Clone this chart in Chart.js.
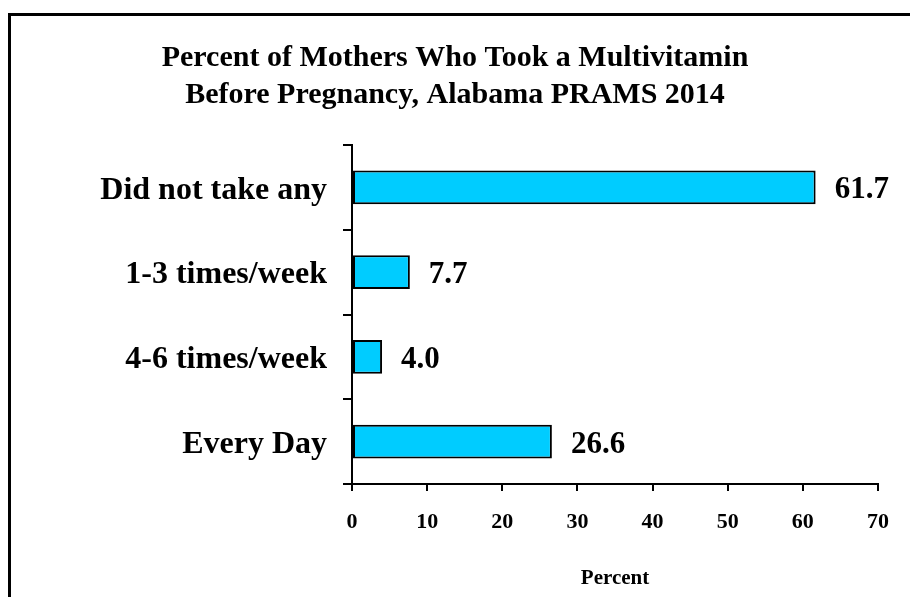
<!DOCTYPE html>
<html lang="en">
<head>
  <meta charset="UTF-8" />
  <title>Multivitamin Before Pregnancy</title>
  <script src="https://cdn.jsdelivr.net/npm/chart.js"></script>
  <style>
    body { margin: 0; background: #fff; overflow: hidden; }
    .wrap { position: relative; width: 910px; height: 597px; }
    .frame {
      position: absolute; left: 8px; top: 13px;
      width: 1000px; height: 700px;
      border: 3px solid #000;
    }
    canvas { position: absolute; left: 0; top: 0; }
  </style>
</head>
<body>
  <div class="wrap">
    <div class="frame"></div>
    <canvas id="chart" width="910" height="597"></canvas>
  </div>

  <script>
    // data
    const categories = ['Did not take any', '1-3 times/week', '4-6 times/week', 'Every Day'];
    const percents = [61.7, 7.7, 4.0, 26.6];
    const xTicks = [0, 10, 20, 30, 40, 50, 60, 70];
    const titleLines = ['Percent of Mothers Who Took a Multivitamin', 'Before Pregnancy, Alabama PRAMS 2014'];

    const serif = '"Liberation Serif", "Times New Roman", serif';

    // title + value labels
    const extras = {
      id: 'extras',
      afterDatasetsDraw(chart) {
        const ctx = chart.ctx;
        ctx.save();
        ctx.fillStyle = '#000';
        ctx.font = 'bold 30px ' + serif;
        ctx.textAlign = 'center';
        ctx.textBaseline = 'middle';
        ctx.fillText(titleLines[0], 455, 58);
        ctx.fillText(titleLines[1], 455, 95);

        ctx.font = 'bold 31px ' + serif;
        ctx.textAlign = 'left';
        const meta = chart.getDatasetMeta(0);
        meta.data.forEach((bar, i) => {
          ctx.fillText(percents[i].toFixed(1), bar.x + 19, bar.y + 3);
        });
        ctx.restore();
      }
    };

    new Chart(document.getElementById('chart'), {
      type: 'bar',
      data: {
        labels: categories,
        datasets: [{
          data: percents,
          backgroundColor: '#00CCFF',
          borderColor: '#000',
          borderWidth: 2,
          borderSkipped: false,
          categoryPercentage: 1,
          barPercentage: 0.4
        }]
      },
      options: {
        indexAxis: 'y',
        responsive: false,
        animation: false,
        layout: { padding: { top: 145, right: 32, left: 0, bottom: 0 } },
        plugins: { legend: { display: false }, tooltip: { enabled: false } },
        scales: {
          x: {
            min: 0, max: 70,
            afterBuildTicks(scale) { scale.ticks = xTicks.map(v => ({ value: v })); },
            afterFit(scale) { scale.height = 113; },
            grid: { drawOnChartArea: false, drawTicks: true, tickLength: 7, color: '#000', lineWidth: 2 },
            border: { display: true, color: '#000', width: 2 },
            ticks: { color: '#000', padding: 18, font: { family: serif, size: 22, weight: 'bold' } },
            title: {
              display: true, text: 'Percent', color: '#000',
              padding: { top: 0, bottom: 6 },
              font: { family: serif, size: 21, weight: 'bold' }
            }
          },
          y: {
            afterFit(scale) { scale.width = 352; },
            grid: { offset: true, drawOnChartArea: false, drawTicks: true, tickLength: 9, color: '#000', lineWidth: 2 },
            border: { display: true, color: '#000', width: 2 },
            ticks: { color: '#000', padding: 16, labelOffset: 3, font: { family: serif, size: 32, weight: 'bold' } }
          }
        }
      },
      plugins: [extras]
    });
  </script>
</body>
</html>
